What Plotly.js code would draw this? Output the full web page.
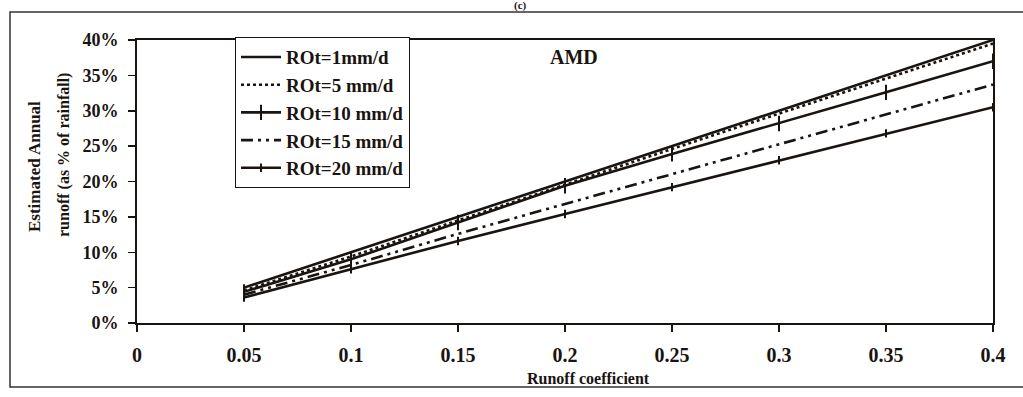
<!DOCTYPE html>
<html>
<head>
<meta charset="utf-8">
<script src="https://cdn.plot.ly/plotly-3.0.1.min.js"></script>
<style>html,body{margin:0;padding:0;background:#fff;}#chart{width:1023px;height:397px;}</style>
</head>
<body>
<div id="chart"></div>
<script>
// Runoff coefficient (x) and estimated annual runoff (% of rainfall)
var runoffCoef = [0.05, 0.1, 0.15, 0.2, 0.25, 0.3, 0.35, 0.4];
var seriesNames = ["ROt=1mm/d", "ROt=5 mm/d", "ROt=10 mm/d", "ROt=15 mm/d", "ROt=20 mm/d"];
var rot1  = [5.0, 10.0, 15.0, 20.0, 25.0, 30.0, 35.0, 40.0];
var rot5  = [4.6, 9.4, 14.5, 19.6, 24.6, 29.6, 34.6, 39.5];
var rot10 = [4.4, 9.0, 14.2, 19.4, 23.9, 28.2, 32.6, 37.0];
var rot15 = [4.0, 8.2, 12.6, 16.8, 21.1, 25.3, 29.4, 33.7];
var rot20 = [3.6, 7.6, 11.6, 15.4, 19.2, 23.0, 26.8, 30.5];
var yTickVals = [0, 5, 10, 15, 20, 25, 30, 35, 40];
var xTickVals = [0, 0.05, 0.1, 0.15, 0.2, 0.25, 0.3, 0.35, 0.4];

var serif = "Liberation Serif, Times New Roman, serif";
var ink = "#1a1410";

var traces = [
  {x: runoffCoef, y: rot1, name: seriesNames[0], mode: "lines",
   line: {color: ink, width: 2.6}},
  {x: runoffCoef, y: rot5, name: seriesNames[1], mode: "lines",
   line: {color: ink, width: 2.6, dash: "dot"}},
  {x: runoffCoef, y: rot10, name: seriesNames[2], mode: "lines+markers",
   line: {color: ink, width: 2.6},
   marker: {symbol: "line-ns-open", size: 11, color: ink, line: {color: ink, width: 2}}},
  {x: runoffCoef, y: rot15, name: seriesNames[3], mode: "lines",
   line: {color: ink, width: 2.6, dash: "12px,5px,3px,5px,3px,5px"}},
  {x: runoffCoef, y: rot20, name: seriesNames[4], mode: "lines+markers",
   line: {color: ink, width: 2.6},
   marker: {symbol: "line-ns-open", size: 6, color: ink, line: {color: ink, width: 2}}}
];

function ann(text, px, py, size, angle) {
  return {text: "<b>" + text + "</b>", xref: "paper", yref: "paper",
    x: (px - 137) / 856, y: (323 - py) / 283, xanchor: "center", yanchor: "middle",
    showarrow: false, textangle: angle || 0, font: {family: serif, size: size, color: ink}};
}

var layout = {
  width: 1023, height: 397,
  margin: {l: 137, r: 30, t: 40, b: 74},
  paper_bgcolor: "#ffffff", plot_bgcolor: "#ffffff",
  font: {family: serif, color: ink, size: 15},
  showlegend: true,
  legend: {
    x: 0.1145, y: 1.01, xanchor: "left", yanchor: "top",
    bgcolor: "#ffffff", bordercolor: ink, borderwidth: 1,
    font: {family: serif, size: 19, color: ink, weight: "bold"},
    tracegroupgap: 0, itemwidth: 40
  },
  xaxis: {
    range: [0, 0.4], tickvals: xTickVals, ticktext: xTickVals.map(String),
    showgrid: false, zeroline: false,
    showline: true, linecolor: ink, linewidth: 2, mirror: true,
    ticks: "outside", ticklen: 7, tickwidth: 1.5, tickcolor: ink,
    tickfont: {family: serif, size: 20, color: ink, weight: "bold"},
    ticklabelstandoff: 6
  },
  yaxis: {
    range: [0, 40], tickvals: yTickVals, ticktext: yTickVals.map(function(v){return v + "%";}),
    showgrid: false, zeroline: false,
    showline: true, linecolor: ink, linewidth: 2, mirror: true,
    ticks: "outside", ticklen: 7, tickwidth: 1.5, tickcolor: ink,
    tickfont: {family: serif, size: 18, color: ink, weight: "bold"},
    ticklabelstandoff: 6
  },
  annotations: [
    ann("AMD", 574, 57, 20),
    ann("Runoff coefficient", 588, 378, 16),
    ann("Estimated Annual", 34, 167, 17, -90),
    ann("runoff (as % of rainfall)", 64, 155, 16, -90),
    ann("(c)", 520, 5, 11)
  ],
  shapes: [
    {type: "rect", xref: "paper", yref: "paper",
     x0: (10-137)/856, x1: (1030-137)/856, y0: (323-387)/283, y1: (323-12)/283,
     line: {color: "#333", width: 1.5}, fillcolor: "rgba(0,0,0,0)", layer: "below"}
  ]
};

Plotly.newPlot("chart", traces, layout, {displayModeBar: false, staticPlot: true});
</script>
</body>
</html>
